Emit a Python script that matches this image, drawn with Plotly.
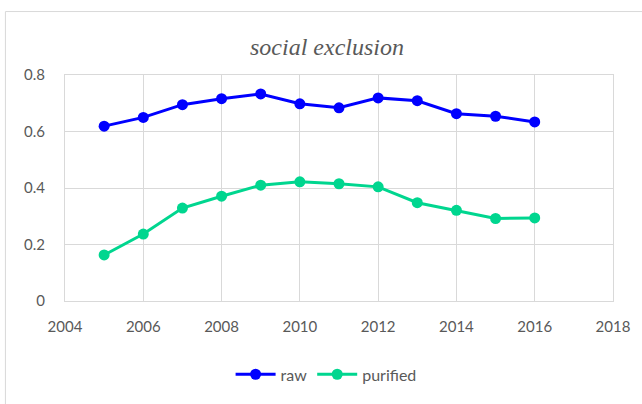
import plotly.graph_objects as go

# Yearly index values
years = [2005, 2006, 2007, 2008, 2009, 2010, 2011, 2012, 2013, 2014, 2015, 2016]
raw = [0.619, 0.650, 0.695, 0.716, 0.733, 0.698, 0.684, 0.719, 0.709, 0.663, 0.654, 0.634]
purified = [0.163, 0.237, 0.329, 0.371, 0.410, 0.422, 0.415, 0.404, 0.348, 0.321, 0.292, 0.294]

x_ticks = [2004, 2006, 2008, 2010, 2012, 2014, 2016, 2018]
y_ticks = [0, 0.2, 0.4, 0.6, 0.8]

W, H = 642, 404
ML, MR, MT, MB = 65, 25, 75, 101
PW, PH = W - ML - MR, H - MT - MB

def px_x(p):
    return (p - ML) / PW

def px_y(p):
    return (H - MB - p) / PH

TICK_FONT = dict(family="Lato, Open Sans, sans-serif", size=15, color="#595959")
LEGEND_FONT = dict(family="Lato, Open Sans, sans-serif", size=16, color="#595959")

fig = go.Figure()
fig.add_trace(go.Scatter(
    x=years, y=raw, name="raw", mode="lines+markers",
    line=dict(color="#0000FF", width=3),
    marker=dict(color="#0000FF", size=11),
))
fig.add_trace(go.Scatter(
    x=years, y=purified, name="purified", mode="lines+markers",
    line=dict(color="#00D68F", width=3),
    marker=dict(color="#00D68F", size=11),
))

fig.update_layout(
    width=W, height=H,
    margin=dict(l=ML, r=MR, t=MT, b=MB),
    paper_bgcolor="white", plot_bgcolor="white",
    showlegend=True,
    legend=dict(
        orientation="h", x=px_x(328), xanchor="center",
        y=px_y(377), yanchor="middle",
        font=LEGEND_FONT, itemwidth=40, traceorder="normal",
        bgcolor="rgba(0,0,0,0)",
    ),
    xaxis=dict(
        range=[2004, 2018], tickvals=x_ticks, ticktext=[str(v) for v in x_ticks],
        showgrid=True, gridcolor="#D9D9D9", gridwidth=1,
        showline=True, linecolor="#D9D9D9", linewidth=1, mirror=True,
        zeroline=False, ticks="", tickfont=TICK_FONT, ticklabelstandoff=12,
    ),
    yaxis=dict(
        range=[0, 0.8], tickvals=y_ticks, ticktext=["0", "0.2", "0.4", "0.6", "0.8"],
        showgrid=True, gridcolor="#D9D9D9", gridwidth=1,
        showline=True, linecolor="#D9D9D9", linewidth=1, mirror=True,
        zeroline=True, zerolinecolor="#BFBFBF", zerolinewidth=1.5,
        ticks="", tickfont=TICK_FONT, ticklabelstandoff=16,
    ),
    annotations=[dict(
        text="<i>social exclusion</i>", xref="paper", yref="paper",
        x=px_x(329), y=px_y(47), xanchor="center", yanchor="middle",
        showarrow=False,
        font=dict(family="Liberation Serif, DejaVu Serif, serif", size=24, color="#595959"),
    )],
    shapes=[dict(
        type="rect", xref="paper", yref="paper",
        x0=px_x(5), x1=px_x(660), y0=px_y(420), y1=px_y(11),
        line=dict(color="#D9D9D9", width=1), fillcolor="rgba(0,0,0,0)", layer="below",
    )],
)

fig.write_html("out.html")
